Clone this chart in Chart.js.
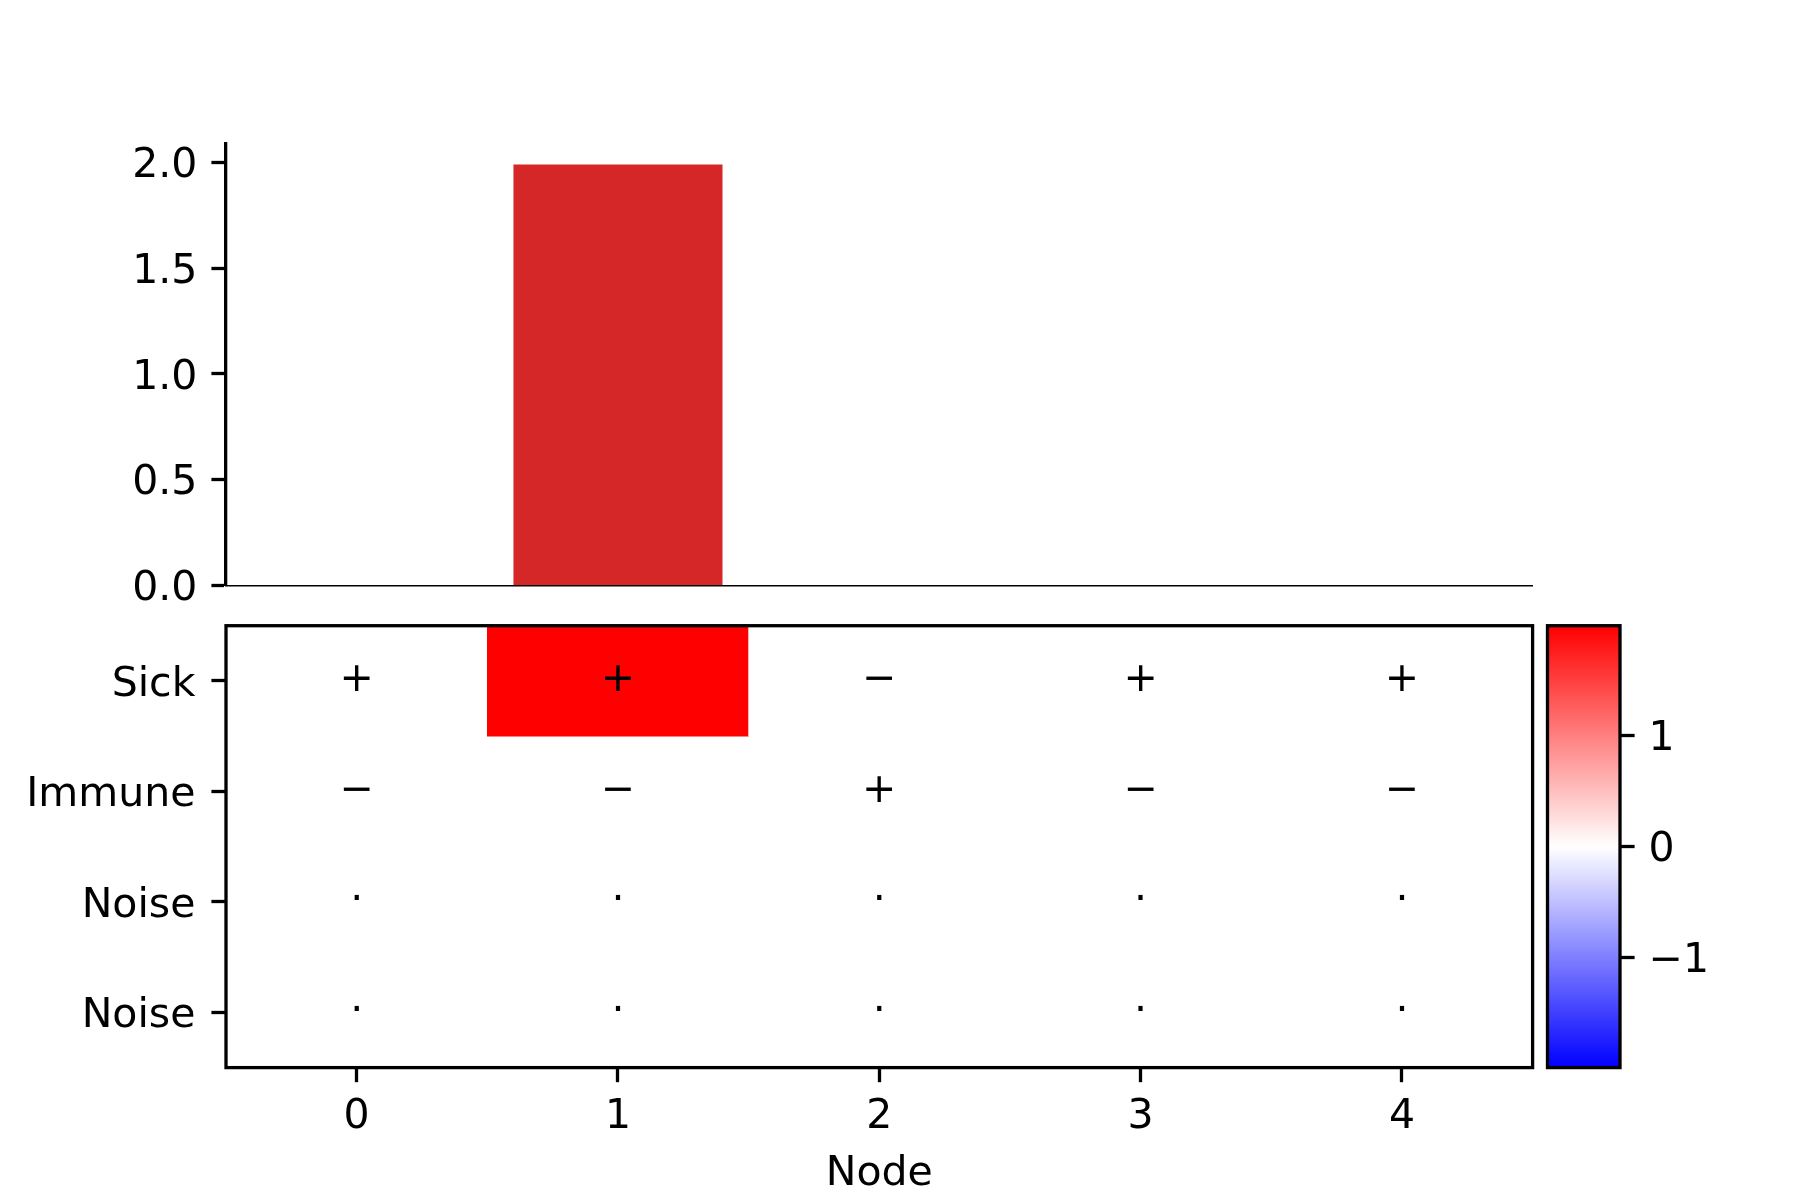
<!DOCTYPE html>
<html>
<head>
<meta charset="utf-8">
<script src="https://cdn.jsdelivr.net/npm/chart.js@4"></script>
<style>
  html, body { margin: 0; padding: 0; background: #fff; }
  #wrap { position: relative; width: 1800px; height: 1200px; }
  #wrap canvas { position: absolute; left: 0; top: 0; }
</style>
</head>
<body>
<div id="wrap">
  <canvas id="barras" width="1800" height="1200"></canvas>
  <canvas id="mapa" width="1800" height="1200"></canvas>
  <canvas id="escala" width="1800" height="1200"></canvas>
</div>
<script>
// dados
const nodes = ['0', '1', '2', '3', '4'];
const barValues = [0, 1.99, 0, 0, 0];
const barTicks = [0, 0.5, 1, 1.5, 2];

const rowLabels = ['Sick', 'Immune', 'Noise', 'Noise'];
const heatSick = [0, 1.99, 0, 0, 0];
const heatImmune = [0, 0, 0, 0, 0];
const heatNoise1 = [0, 0, 0, 0, 0];
const heatNoise2 = [0, 0, 0, 0, 0];

const signsSick = ['+', '+', '\u2212', '+', '+'];
const signsImmune = ['\u2212', '\u2212', '+', '\u2212', '\u2212'];
const signsNoise1 = ['\u00b7', '\u00b7', '\u00b7', '\u00b7', '\u00b7'];
const signsNoise2 = ['\u00b7', '\u00b7', '\u00b7', '\u00b7', '\u00b7'];

const colorbarTicks = [-1, 0, 1];

const heatRows = [heatSick, heatImmune, heatNoise1, heatNoise2];
const signRows = [signsSick, signsImmune, signsNoise1, signsNoise2];
const vmax = Math.max(...heatRows.flat().map(Math.abs));

Chart.defaults.font.family = '"DejaVu Sans"';
Chart.defaults.font.size = 41;
Chart.defaults.color = '#000';

// mapa de cores bwr (azul - branco - vermelho)
function bwr(v) {
  const t = (v + vmax) / (2 * vmax);
  let r, g, b;
  if (t < 0.5) { r = g = Math.round(510 * t); b = 255; }
  else { r = 255; g = b = Math.round(510 * (1 - t)); }
  return `rgb(${r},${g},${b})`;
}

const tickGrid = { drawOnChartArea: false, tickLength: 14.6, tickColor: '#000', tickWidth: 3.3 };

// gráfico de barras superior
new Chart(document.getElementById('barras'), {
  type: 'bar',
  data: {
    labels: nodes,
    datasets: [{ data: barValues, backgroundColor: '#d62728', barPercentage: 0.8, categoryPercentage: 1.0, borderWidth: 0 }]
  },
  options: {
    responsive: false,
    animation: false,
    layout: { padding: { left: 0, right: 267.4, top: 143.5, bottom: 614.5 } },
    plugins: { legend: { display: false }, tooltip: { enabled: false } },
    scales: {
      x: {
        offset: true,
        grid: { display: false, offset: false },
        ticks: { display: false },
        border: { color: '#000', width: 1.5 },
        afterFit: s => { s.height = 0; }
      },
      y: {
        min: 0,
        max: Math.max(...barValues) * 1.05,
        afterBuildTicks: s => { s.ticks = barTicks.map(v => ({ value: v })); },
        ticks: { callback: v => v.toFixed(1), padding: 14, color: '#000', labelOffset: 4 },
        grid: tickGrid,
        border: { color: '#000', width: 3.3 },
        afterFit: s => { s.width = 226; }
      }
    }
  }
});

// sinais e moldura do mapa de calor
const marcas = {
  id: 'marcas',
  afterDatasetsDraw(chart) {
    const { ctx, chartArea: a, scales: { x, y } } = chart;
    ctx.save();
    ctx.font = '41px "DejaVu Sans"';
    ctx.fillStyle = '#000';
    ctx.textAlign = 'center';
    ctx.textBaseline = 'alphabetic';
    signRows.forEach((row, r) => row.forEach((s, c) => {
      ctx.fillText(s, x.getPixelForValue(c), y.getPixelForValue(r) + 10.5);
    }));
    ctx.lineWidth = 3.3;
    ctx.strokeStyle = '#000';
    ctx.strokeRect(a.left, a.top, a.right - a.left, a.bottom - a.top);
    ctx.restore();
  }
};

new Chart(document.getElementById('mapa'), {
  type: 'bar',
  data: {
    labels: nodes,
    datasets: heatRows.map((row, r) => ({
      data: row.map(() => [r - 0.5, r + 0.5]),
      backgroundColor: row.map(bwr),
      grouped: false,
      barPercentage: 1,
      categoryPercentage: 1,
      borderWidth: 0
    }))
  },
  options: {
    responsive: false,
    animation: false,
    layout: { padding: { left: 0, right: 267.4, top: 625.7, bottom: 0 } },
    plugins: { legend: { display: false }, tooltip: { enabled: false } },
    scales: {
      x: {
        offset: true,
        grid: Object.assign({ offset: false }, tickGrid),
        border: { display: false },
        ticks: { padding: 10.5, color: '#000', maxRotation: 0 },
        title: { display: true, text: 'Node', color: '#000', padding: { top: 6, bottom: 1.5 } },
        afterFit: s => { s.height = 132.4; }
      },
      y: {
        reverse: true,
        min: -0.5,
        max: 3.5,
        afterBuildTicks: s => { s.ticks = rowLabels.map((_, i) => ({ value: i })); },
        ticks: { callback: v => rowLabels[v], padding: 16, color: '#000', labelOffset: 4 },
        grid: tickGrid,
        border: { display: false },
        afterFit: s => { s.width = 226; }
      }
    }
  },
  plugins: [marcas]
});

// barra de cores
const gradiente = {
  id: 'gradiente',
  beforeDatasetsDraw(chart) {
    const { ctx, chartArea: a, scales: { y } } = chart;
    const g = ctx.createLinearGradient(0, y.getPixelForValue(vmax), 0, y.getPixelForValue(-vmax));
    g.addColorStop(0, bwr(vmax));
    g.addColorStop(0.5, bwr(0));
    g.addColorStop(1, bwr(-vmax));
    ctx.save();
    ctx.fillStyle = g;
    ctx.fillRect(a.left, a.top, a.right - a.left, a.bottom - a.top);
    ctx.restore();
  },
  afterDraw(chart) {
    const { ctx, chartArea: a } = chart;
    ctx.save();
    ctx.lineWidth = 3.3;
    ctx.strokeStyle = '#000';
    ctx.strokeRect(a.left, a.top, a.right - a.left, a.bottom - a.top);
    ctx.restore();
  }
};

new Chart(document.getElementById('escala'), {
  type: 'bar',
  data: { labels: [''], datasets: [{ data: [] }] },
  options: {
    responsive: false,
    animation: false,
    layout: { padding: { left: 1547.5, right: 0, top: 625.7, bottom: 132.4 } },
    plugins: { legend: { display: false }, tooltip: { enabled: false } },
    scales: {
      x: { display: false },
      y: {
        position: 'right',
        min: -vmax,
        max: vmax,
        afterBuildTicks: s => { s.ticks = colorbarTicks.map(v => ({ value: v })); },
        ticks: { callback: v => v < 0 ? '\u2212' + Math.abs(v) : String(v), padding: 14, color: '#000', labelOffset: 4 },
        grid: tickGrid,
        border: { display: false },
        afterFit: s => { s.width = 180; }
      }
    }
  },
  plugins: [gradiente]
});
</script>
</body>
</html>
